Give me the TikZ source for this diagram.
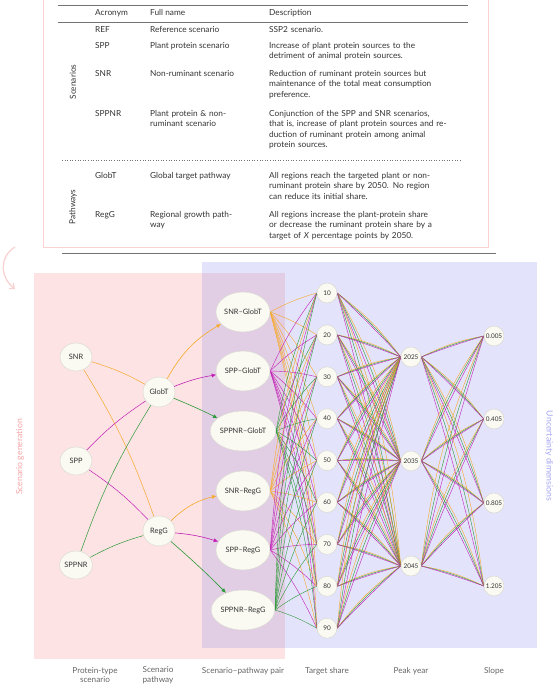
\documentclass[tikz,border=0pt]{standalone}
\usepackage{fontspec}
\setmainfont{Lato}
\usepackage{tikz}
\usetikzlibrary{arrows,arrows.meta,backgrounds}
\usetikzlibrary{shapes.geometric}
\definecolor{dietorange}{HTML}{F7A928}
\definecolor{dietmagenta}{HTML}{C21FB6}
\definecolor{dietgreen}{HTML}{2C9A37}
\definecolor{dietpink}{HTML}{FDE3E4}
\definecolor{dietblue}{HTML}{E3E3FB}
\definecolor{dietoverlap}{HTML}{E1CDE4}
\definecolor{dietframe}{HTML}{F9D2D3}
\definecolor{dietnode}{HTML}{FAFAF2}
\definecolor{dietborder}{HTML}{DADAD2}
\definecolor{diettext}{HTML}{333333}
\definecolor{dietpinktext}{HTML}{F6A5A8}
\definecolor{dietbluetext}{HTML}{A6A6F4}
\newcommand{\diettablefont}{\linespread{1}\fontsize{8.3}{10.4}\selectfont}
\newcommand{\dietnodefont}{\linespread{1}\fontsize{7.4}{8}\selectfont}
\newcommand{\dietsmallfont}{\linespread{1}\fontsize{6.4}{7}\selectfont}
\newcommand{\dietlabelfont}{\linespread{1}\fontsize{8.2}{9.5}\selectfont}
\newcommand{\dietsidefont}{\linespread{1}\fontsize{8.7}{9.5}\selectfont}
\tikzset{
    diet/chart/.style={x=1pt, y=-1pt, font=\diettablefont, text=diettext},
    diet/frame/.style={draw=dietframe, line width=1pt},
    diet/rule/.style={draw=black!55, line width=0.6pt},
    diet/cell/.style={anchor=base west, align=left, inner sep=0pt},
    diet/side/.style={rotate=90, inner sep=0pt},
    diet/scenario/.style={ellipse, draw=dietborder, fill=dietnode, line width=0.5pt, font=\dietnodefont, minimum width=32pt, minimum height=28pt, inner sep=0pt},
    diet/pathway/.style={diet/scenario, minimum height=30pt},
    diet/pair/.style={diet/scenario, minimum width=54pt, minimum height=40pt},
    diet/value/.style={circle, draw=dietborder, fill=dietnode, line width=0.5pt, font=\dietsmallfont, minimum size=20pt, inner sep=0pt},
    diet/wire/.style={line width=0.4pt},
    diet/arrow/.style={->, >={Latex[length=4.5pt,width=4pt]}, line width=0.6pt},
    diet/axis/.style={font=\dietlabelfont, text=black!60, align=center, inner sep=0pt}
}
\begin{document}
\begin{tikzpicture}[diet/chart]
    \useasboundingbox (0,0) rectangle (554,685);
    % table of scenarios and pathways
    \draw[diet/frame] (43,-2) rectangle (488,247);
    \draw[diet/rule] (58,5) -- (468,5);
    \draw[diet/rule] (58,22) -- (468,22);
    \draw[black!55, line width=0.6pt, dotted] (62,160) -- (462,160);
    \draw[diet/rule] (62,253) -- (496,253);
    \node[diet/cell] (hacr) at (95,15.5) {Acronym};
    \node[diet/cell] (hname) at (150,15.5) {Full name};
    \node[diet/cell] (hdesc) at (269,15.5) {Description};
    \node[diet/cell] (aref) at (95,32.5) {REF};
    \node[diet/cell] (nref) at (150,32.5) {Reference scenario};
    \node[diet/cell, text width=210pt] (dref) at (269,32.5) {SSP2 scenario.};
    \node[diet/cell] (aspp) at (95,48.5) {SPP};
    \node[diet/cell] (nspp) at (150,48.5) {Plant protein scenario};
    \node[diet/cell, text width=210pt] (dspp) at (269,48.5) {Increase of plant protein sources to the\\detriment of animal protein sources.};
    \node[diet/cell] (asnr) at (95,76.5) {SNR};
    \node[diet/cell] (nsnr) at (150,76.5) {Non-ruminant scenario};
    \node[diet/cell, text width=210pt] (dsnr) at (269,76.5) {Reduction of ruminant protein sources but\\maintenance of the total meat consumption\\preference.};
    \node[diet/cell] (asppnr) at (95,116.5) {SPPNR};
    \node[diet/cell, text width=110pt] (nsppnr) at (150,116.5) {Plant protein \& non-\\ruminant scenario};
    \node[diet/cell, text width=210pt] (dsppnr) at (269,116.5) {Conjunction of the SPP and SNR scenarios,\\that is, increase of plant protein sources and re-\\duction of ruminant protein among animal\\protein sources.};
    \node[diet/cell] (aglobt) at (95,178.5) {GlobT};
    \node[diet/cell] (nglobt) at (150,178.5) {Global target pathway};
    \node[diet/cell, text width=210pt] (dglobt) at (269,178.5) {All regions reach the targeted plant or non-\\ruminant protein share by 2050. No region\\can reduce its initial share.};
    \node[diet/cell] (aregg) at (95,217.5) {RegG};
    \node[diet/cell, text width=110pt] (nregg) at (150,217.5) {Regional growth path-\\way};
    \node[diet/cell, text width=210pt] (dregg) at (269,217.5) {All regions increase the plant-protein share\\or decrease the ruminant protein share by a\\target of \textit{X} percentage points by 2050.};
    \node[diet/side] (scenarios) at (73,82) {Scenarios};
    \node[diet/side] (pathways) at (73,207) {Pathways};
    % curled arrow
    \coordinate (curlstart) at (15,247);
    \coordinate (curlend) at (15,289);
    \draw[dietframe, line width=1.3pt, -{Straight Barb[length=4pt,width=7pt]}] (curlstart) .. controls (-1,257) and (0,277) .. (curlend);
    % scenario generation
    \node[diet/scenario] (snr) at (76,357) {SNR};
    \node[diet/scenario] (spp) at (76,461) {SPP};
    \node[diet/scenario] (sppnr) at (76,565) {SPPNR};
    \node[diet/pathway] (globt) at (159,392) {GlobT};
    \node[diet/pathway] (regg) at (159,531) {RegG};
    \node[diet/pair] (snrglobt) at (243,312) {SNR--GlobT};
    \node[diet/pair] (sppglobt) at (243,371) {SPP--GlobT};
    \node[diet/pair] (sppnrglobt) at (243,431) {SPPNR--GlobT};
    \node[diet/pair] (snrregg) at (243,491) {SNR--RegG};
    \node[diet/pair] (sppregg) at (243,550) {SPP--RegG};
    \node[diet/pair] (sppnrregg) at (243,610) {SPPNR--RegG};
    % uncertainty dimensions
    \foreach \share [count=\i from 0] in {10,20,...,90}
        \node[diet/value] (share\share) at (327,{293+41.9*\i}) {\share};
    \foreach \year/\y in {2025/357,2035/461,2045/566}
        \node[diet/value] (year\year) at (411,\y) {\year};
    \foreach \slope/\val/\y in {1/0.005/336,2/0.405/419,3/0.805/503,4/1.205/586}
        \node[diet/value] (slope\slope) at (494,\y) {\val};
    \node[diet/side, font=\dietsidefont, text=dietpinktext] (scengen) at (20,457) {Scenario generation};
    \node[diet/side, rotate=180, font=\dietsidefont, text=dietbluetext] (uncdim) at (549,456) {Uncertainty dimensions};
    \node[diet/axis] (xprot) at (95,675) {Protein-type\\scenario};
    \node[diet/axis] (xpath) at (158,675) {Scenario\\pathway};
    \node[diet/axis] (xpair) at (243,671) {Scenario--pathway pair};
    \node[diet/axis] (xshare) at (327,671) {Target share};
    \node[diet/axis] (xyear) at (411,671) {Peak year};
    \node[diet/axis] (xslope) at (494,671) {Slope};
    \begin{scope}[on background layer]
        \fill[dietpink] (34,273) rectangle (285,659);
        \fill[dietblue] (202,262) rectangle (537,648);
        \fill[dietoverlap] (202,273) rectangle (285,648);
        \foreach \src/\col in {snr/dietorange,spp/dietmagenta,sppnr/dietgreen} {
            \draw[diet/wire, line width=0.5pt, \col] (\src) to[bend left=6] (globt);
            \draw[diet/wire, line width=0.5pt, \col] (\src) to[bend left=6] (regg);
        }
        \foreach \pair/\col in {snrglobt/dietorange,sppglobt/dietmagenta,sppnrglobt/dietgreen,snrregg/dietorange,sppregg/dietmagenta,sppnrregg/dietgreen}
            \foreach \share in {10,20,...,90}
                \draw[diet/wire, \col] (\pair.east) to[bend left=6] (share\share.west);
        \foreach \share in {10,20,...,90}
            \foreach \year in {2025,2035,2045} {
                \draw[diet/wire, dietorange] (share\share.east) to[bend left=8] (year\year.west);
                \draw[diet/wire, dietgreen] (share\share.east) to[bend left=5] (year\year.west);
                \draw[diet/wire, dietmagenta] (share\share.east) to[bend left=2] (year\year.west);
            }
        \foreach \year in {2025,2035,2045}
            \foreach \slope in {1,2,3,4} {
                \draw[diet/wire, dietorange] (year\year.east) to[bend left=8] (slope\slope.west);
                \draw[diet/wire, dietgreen] (year\year.east) to[bend left=5] (slope\slope.west);
                \draw[diet/wire, dietmagenta] (year\year.east) to[bend left=2] (slope\slope.west);
            }
    \end{scope}
    \draw[diet/arrow, dietorange] (globt) to[bend left=15] (snrglobt);
    \draw[diet/arrow, dietmagenta] (globt) to[bend left=6] (sppglobt);
    \draw[diet/arrow, dietgreen] (globt) to[bend left=2] (sppnrglobt);
    \draw[diet/arrow, dietorange] (regg) to[bend left=15] (snrregg);
    \draw[diet/arrow, dietmagenta] (regg) to[bend left=6] (sppregg);
    \draw[diet/arrow, dietgreen] (regg) to[bend left=2] (sppnrregg);
\end{tikzpicture}
\end{document}
